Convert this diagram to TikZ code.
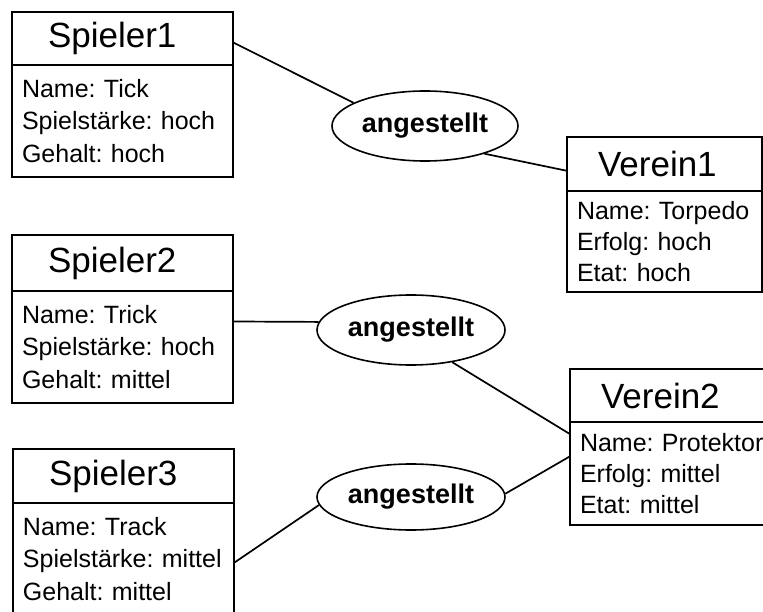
\documentclass[tikz,border=0pt]{standalone}
\usepackage{fontspec}
\setmainfont{Liberation Sans}
\usetikzlibrary{shapes.geometric}
\frenchspacing
\hyphenpenalty=10000
\exhyphenpenalty=10000

\begin{document}
\begin{tikzpicture}[x=1pt,y=-1pt,
  kopf/.style={draw,line width=1.4pt,outer sep=0pt,anchor=north west,align=left,font=\fontsize{35}{40}\selectfont},
  spkopf/.style={kopf,minimum width=221pt,inner xsep=36pt,text width=149pt},
  vkopf/.style={kopf,minimum width=195pt,inner xsep=31pt,text width=133pt},
  rumpf/.style={draw,line width=1.4pt,outer sep=0pt,anchor=north west,align=left,inner xsep=10pt,inner ysep=0pt},
  sprumpf/.style={rumpf,minimum width=221pt,minimum height=112pt,text width=201pt,font=\fontsize{25}{32.5}\selectfont},
  vrumpf/.style={rumpf,minimum width=195pt,text width=175pt,font=\fontsize{25}{31}\selectfont},
  bez/.style={draw,ellipse,line width=1.6pt,inner sep=0pt,minimum width=188pt,minimum height=70pt,font=\bfseries\fontsize{27}{30}\selectfont},
  kante/.style={line width=1.7pt}]
\useasboundingbox (0,0) rectangle (763,612);
\clip (0,0) rectangle (763,612);
\node[spkopf,minimum height=53pt] (s1k) at (12,12) {Spieler1};
\node[sprumpf] (s1r) at (s1k.south west) {Name: Tick\\Spielstärke: hoch\\Gehalt: hoch};
\node[spkopf,minimum height=56pt] (s2k) at (12,235) {Spieler2};
\node[sprumpf] (s2r) at (s2k.south west) {Name: Trick\\Spielstärke: hoch\\Gehalt: mittel};
\node[spkopf,minimum height=54pt] (s3k) at (13,449) {Spieler3};
\node[sprumpf] (s3r) at (s3k.south west) {Name: Track\\Spielstärke:~mittel\\Gehalt: mittel};
\node[vkopf,minimum height=54pt] (v1k) at (567,137) {Verein1};
\node[vrumpf,minimum height=101pt] (v1r) at (v1k.south west) {Name:~Torpedo\\Erfolg: hoch\\Etat: hoch};
\node[vkopf,minimum height=53pt] (v2k) at (570,369) {Verein2};
\node[vrumpf,minimum height=103pt] (v2r) at (v2k.south west) {Name:~Protektor\\Erfolg: mittel\\Etat: mittel};
\node[bez,minimum width=186pt] (e1) at (425,126) {angestellt};
\node[bez] (e2) at (411,330) {angestellt};
\node[bez,minimum height=66pt] (e3) at (411,497) {angestellt};
\draw[kante] (s1k.-2) -- (e1.162);
\draw[kante] (e1.-25) -- (v1k.184);
\draw[kante] (s2r.13) -- (e2.175);
\draw[kante] (e2.-38) -- (v2r.158);
\draw[kante] (s3r.-2) -- (e3.185);
\draw[kante] (e3.2) -- (v2r.170);
\end{tikzpicture}
\end{document}
